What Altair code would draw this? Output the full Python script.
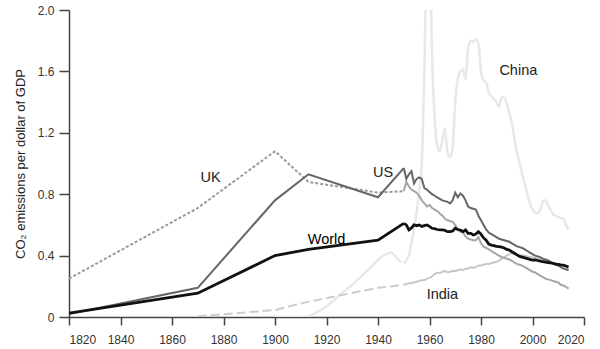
import altair as alt
import pandas as pd

# Sparse benchmark years (Maddison-style) and annual years
early_years = [1820, 1870, 1900, 1913, 1940, 1950]
annual_years = list(range(1950, 2015))

world_early = [0.025, 0.155, 0.40, 0.44, 0.50, 0.61]
us_early = [0.02, 0.19, 0.76, 0.93, 0.78, 0.97]
uk_early = [0.25, 0.71, 1.08, 0.88, 0.81, 0.82]
india_early_years = [1870, 1900, 1913, 1940, 1950]
india_early = [0.005, 0.045, 0.10, 0.19, 0.21]

world_annual = [0.61, 0.60, 0.567, 0.58, 0.60, 0.595, 0.60, 0.59, 0.595, 0.60,
                0.59, 0.578, 0.575, 0.57, 0.567, 0.567, 0.565, 0.556, 0.556, 0.56,
                0.578, 0.57, 0.567, 0.556, 0.567, 0.545, 0.545, 0.534, 0.54, 0.556,
                0.54, 0.515, 0.50, 0.475, 0.468, 0.465, 0.46, 0.458, 0.455, 0.45,
                0.44, 0.436, 0.425, 0.415, 0.405, 0.395, 0.39, 0.385, 0.38, 0.375,
                0.371, 0.372, 0.368, 0.364, 0.36, 0.358, 0.355, 0.352, 0.35, 0.345,
                0.343, 0.34, 0.338, 0.332, 0.326]
us_annual = [0.97, 0.90, 0.93, 0.95, 0.87, 0.90, 0.91, 0.90, 0.84, 0.83,
             0.815, 0.80, 0.79, 0.78, 0.77, 0.76, 0.755, 0.75, 0.74, 0.76,
             0.81, 0.78, 0.805, 0.79, 0.76, 0.72, 0.71, 0.705, 0.70, 0.66,
             0.63, 0.60, 0.57, 0.55, 0.54, 0.53, 0.52, 0.51, 0.505, 0.50,
             0.495, 0.49, 0.48, 0.47, 0.46, 0.455, 0.45, 0.44, 0.43, 0.42,
             0.41, 0.40, 0.395, 0.39, 0.38, 0.375, 0.37, 0.36, 0.35, 0.34,
             0.335, 0.325, 0.315, 0.31, 0.305]
uk_annual = [0.82, 0.88, 0.85, 0.83, 0.82, 0.81, 0.79, 0.76, 0.74, 0.72,
             0.73, 0.71, 0.70, 0.69, 0.675, 0.66, 0.64, 0.63, 0.625, 0.62,
             0.60, 0.57, 0.555, 0.55, 0.525, 0.51, 0.505, 0.50, 0.50, 0.52,
             0.48, 0.458, 0.45, 0.44, 0.43, 0.42, 0.41, 0.40, 0.39, 0.385,
             0.38, 0.375, 0.365, 0.355, 0.345, 0.34, 0.335, 0.325, 0.315, 0.305,
             0.295, 0.29, 0.28, 0.27, 0.26, 0.25, 0.245, 0.24, 0.235, 0.23,
             0.225, 0.21, 0.205, 0.197, 0.185]
india_annual = [0.21, 0.215, 0.22, 0.22, 0.225, 0.23, 0.235, 0.24, 0.24, 0.25,
                0.255, 0.265, 0.28, 0.29, 0.285, 0.295, 0.30, 0.29, 0.295, 0.30,
                0.30, 0.305, 0.31, 0.305, 0.315, 0.315, 0.325, 0.32, 0.325, 0.335,
                0.335, 0.34, 0.345, 0.345, 0.35, 0.355, 0.36, 0.365, 0.38, 0.39,
                0.40, 0.41, 0.415, 0.41, 0.405, 0.40, 0.40, 0.40, 0.395, 0.39,
                0.39, 0.385, 0.38, 0.375, 0.37, 0.365, 0.36, 0.355, 0.35, 0.35,
                0.345, 0.34, 0.335, 0.32, 0.31]
china_early_years = [1900, 1910, 1913, 1915, 1920, 1925, 1930, 1935, 1940, 1942,
                     1944, 1945, 1946, 1947, 1948, 1949]
china_early = [0.0, 0.0, 0.005, 0.02, 0.07, 0.14, 0.21, 0.29, 0.37, 0.40,
               0.415, 0.42, 0.41, 0.39, 0.37, 0.355]
china_annual = [0.35, 0.37, 0.40, 0.48, 0.58, 0.68, 0.82, 1.0, 1.6, 2.4,
                2.5, 1.7, 1.3, 1.12, 1.08, 1.15, 1.23, 1.07, 1.04, 1.10,
                1.40, 1.55, 1.60, 1.61, 1.55, 1.75, 1.80, 1.79, 1.81, 1.78,
                1.60, 1.54, 1.53, 1.46, 1.44, 1.42, 1.40, 1.37, 1.43, 1.43,
                1.39, 1.33, 1.26, 1.16, 1.07, 1.00, 0.93, 0.87, 0.80, 0.74,
                0.70, 0.68, 0.675, 0.70, 0.75, 0.76, 0.73, 0.70, 0.67, 0.66,
                0.65, 0.645, 0.64, 0.60, 0.567]

label_text = ["UK", "US", "World", "China", "India"]
label_year = [1875, 1942, 1920, 1994.5, 1965]
label_value = [0.905, 0.94, 0.50, 1.60, 0.143]
label_color = ["#222", "#222", "#000", "#222", "#222"]

rows = []
def add(series, part, years, values):
    for y, v in zip(years, values):
        rows.append({"series": series, "part": part, "year": y, "value": v})

add("World", "early", early_years, world_early)
add("World", "annual", annual_years, world_annual)
add("US", "early", early_years, us_early)
add("US", "annual", annual_years, us_annual)
add("UK", "early", early_years, uk_early)
add("UK", "annual", annual_years, uk_annual)
add("India", "early", india_early_years, india_early)
add("India", "annual", annual_years, india_annual)
add("China", "early", china_early_years, china_early)
add("China", "annual", annual_years, china_annual)
df = pd.DataFrame(rows)

labels = pd.DataFrame({"text": label_text, "year": label_year, "value": label_value,
                       "color": label_color})

FONT = "Liberation Sans"

x_enc = alt.X("year:Q", scale=alt.Scale(domain=[1820, 2020], nice=False, zero=False),
              axis=alt.Axis(values=list(range(1820, 2021, 20)), format="d", title=None,
                            grid=False, tickSize=8, labelPadding=9))
y_enc = alt.Y("value:Q", scale=alt.Scale(domain=[0, 2.0], nice=False),
              axis=alt.Axis(values=[0, 0.4, 0.8, 1.2, 1.6, 2.0],
                            labelExpr="datum.value == 0 ? '0' : format(datum.value, '.1f')",
                            title="CO₂ emissions per dollar of GDP", grid=False,
                            tickSize=10, labelPadding=5, titleX=-49,
                            titleBaseline="middle", titleFontWeight="normal",
                            titleFontSize=13, titleColor="#222"))

base = alt.Chart(df)

def line(series, part, color, width, dash=None, interp="linear"):
    kw = dict(color=color, strokeWidth=width, clip=True, interpolate=interp)
    if dash:
        kw["strokeDash"] = dash
    return base.transform_filter(
        (alt.datum.series == series) & (alt.datum.part == part)
    ).mark_line(**kw).encode(x=x_enc, y=y_enc, order="year:Q")

layers = [
    line("China", "early", "#e8e8e8", 2.5, interp="monotone"),
    line("China", "annual", "#e8e8e8", 2.5, interp="monotone"),
    line("India", "early", "#cccccc", 2, dash=[9, 4]),
    line("India", "annual", "#c8c8c8", 2),
    line("UK", "early", "#9a9a9a", 2, dash=[3, 2]),
    line("UK", "annual", "#a6a6a6", 2),
    line("US", "early", "#666666", 2),
    line("US", "annual", "#666666", 2),
    line("World", "early", "#111111", 2.8),
    line("World", "annual", "#111111", 2.8),
]

text = alt.Chart(labels).mark_text(font=FONT, fontSize=14.5).encode(
    x="year:Q", y="value:Q", text="text:N",
    color=alt.Color("color:N", scale=None))

chart = alt.layer(*layers, text).properties(
    width=515, height=307,
    autosize=alt.AutoSizeParams(type="none"),
    padding={"left": 69, "top": 10, "right": 16, "bottom": 32},
).configure_view(stroke=None).configure_axis(
    domainColor="#444", domainWidth=1.5, tickColor="#444", tickWidth=1.5,
    labelColor="#333", labelFont=FONT, labelFontSize=12, titleFont=FONT,
)

chart.save("out.html", embed_options={"renderer": "svg", "actions": False})
